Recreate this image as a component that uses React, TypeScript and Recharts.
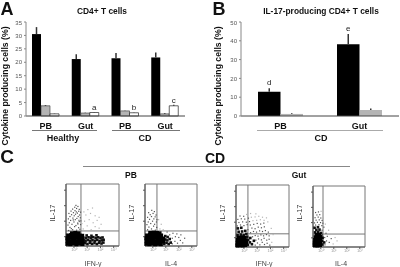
import React from 'react'
import { BarChart, Bar, XAxis, YAxis, ErrorBar, LabelList, ScatterChart, Scatter, ReferenceLine, ReferenceArea } from 'recharts'

const FONT = '"Liberation Sans", Arial, sans-serif'

// Panel A
const groupsA = ['PB', 'Gut', 'PB ', 'Gut ']
const blackA = [30.5, 21.2, 21.5, 21.8]
const blackErrA = [2.6, 1.8, 2, 1.8]
const grayA = [3.8, 1.1, 1.9, 0.8]
const grayErrA = [0.3, 0.1, 0.1, 0.3]
const whiteA = [0.8, 1.3, 1.2, 3.8]
const whiteErrA = [0.1, 0.1, 0.1, 0.4]
const lettersA = ['', 'a', 'b', 'c']
const ticksA = [0, 5, 10, 15, 20, 25, 30, 35]

// Panel B
const groupsB = ['PB', 'Gut']
const blackB = [12.9, 38.2]
const blackErrB = [1.8, 5.4]
const grayB = [1.1, 3.2]
const grayErrB = [0.3, 0.8]
const lettersB = ['d', 'e']
const ticksB = [0, 10, 20, 30, 40, 50]

const dataA = groupsA.map((name, i) => ({
  name,
  black: blackA[i],
  blackErr: [0, blackErrA[i]],
  gray: grayA[i],
  grayErr: [0, grayErrA[i]],
  white: whiteA[i],
  whiteErr: [0, whiteErrA[i]],
  letter: lettersA[i],
}))

const dataB = groupsB.map((name, i) => ({
  name,
  black: blackB[i],
  blackErr: [0, blackErrB[i]],
  gray: grayB[i],
  grayErr: [0, grayErrB[i]],
  letter: lettersB[i],
}))

type Pair = [number, number]

const p1Core: Pair[] = [[.12,.14],[.33,.12],[.55,.16],[.78,.11],[1.0,.15],[1.24,.13],[.13,.33],[.36,.3],[.58,.34],[.8,.3],[1.03,.33],[1.27,.31],[.11,.5],[.34,.52],[.57,.49],[.79,.52],[1.02,.5],[1.25,.49],[.16,.68],[.38,.7],[.6,.66],[.82,.72],[1.04,.67],[1.22,.66],[.45,.82],[.7,.84],[.95,.82]]
const p1Mid: Pair[] = [[1.46,.18],[1.62,.13],[1.8,.2],[1.97,.14],[2.15,.19],[2.33,.13],[2.5,.2],[2.68,.16],[2.82,.22],[1.48,.34],[1.66,.38],[1.83,.31],[2.0,.37],[2.18,.33],[2.36,.39],[2.53,.32],[2.7,.36],[2.84,.4],[1.5,.52],[1.7,.56],[1.88,.5],[2.06,.57],[2.24,.51],[2.42,.56],[2.6,.52],[2.76,.55],[1.56,.68],[1.92,.66],[2.3,.69]]
const p1Sparse: Pair[] = [[.2,1.0],[.5,1.05],[.8,1.02],[1.05,1.08],[.3,1.2],[.65,1.25],[.95,1.18],[.15,1.35],[.45,1.4],[.75,1.32],[1.1,1.38],[.25,1.5],[.6,1.55],[.88,1.48],[1.0,1.58],[.35,1.65],[.7,1.7],[.98,1.66],[.18,1.75],[.52,1.8],[.82,1.78],[1.08,1.82],[.3,1.9],[.62,1.95],[.92,1.9],[.42,2.02],[.72,2.05],[1.02,2.0],[.22,2.1],[.56,2.15],[.86,2.12],[1.1,2.18],[.38,2.25],[.68,2.28],[.96,2.24],[.5,2.38],[.8,2.42],[1.0,2.36],[.66,2.5],[.9,2.55],[.75,2.62],[.4,1.12],[.9,1.42],[.55,1.68],[.78,2.2],[1.12,1.62]]
const p1Faint: Pair[] = [[1.3,1.1],[1.6,1.3],[1.9,1.05],[2.2,1.25],[2.5,1.15],[1.4,1.6],[1.75,1.7],[2.05,1.5],[2.35,1.65],[2.65,1.4],[1.5,2.0],[1.85,2.1],[2.2,1.95],[2.5,1.85],[1.65,2.35],[2.0,2.45],[1.35,2.2],[1.2,1.45]]

const p2Core: Pair[] = [[.12,.14],[.34,.12],[.56,.15],[.78,.11],[1.0,.14],[1.22,.12],[.13,.33],[.36,.31],[.58,.33],[.8,.3],[1.02,.33],[1.25,.31],[1.42,.3],[.11,.5],[.34,.52],[.57,.49],[.79,.52],[1.02,.5],[1.24,.52],[1.4,.48],[.16,.68],[.38,.7],[.6,.66],[.82,.72],[1.04,.68],[1.24,.68],[.4,.84],[.66,.86],[.92,.84],[1.12,.82]]
const p2Mid: Pair[] = [[1.48,.14],[1.66,.2],[1.82,.13],[1.98,.22],[1.56,.42],[1.72,.36],[1.9,.45],[1.56,.64],[1.74,.58]]
const p2Sparse: Pair[] = [[2.1,.14],[2.3,.3],[2.5,.18],[2.72,.36],[2.1,.5],[2.34,.6],[2.6,.55],[1.9,.72],[2.15,.82],[2.45,.78],[2.9,.2],[3.05,.5],[2.76,.72],[1.7,.9],[.2,1.05],[.5,1.1],[.8,1.02],[.3,1.22],[.66,1.28],[.9,1.2],[.15,1.38],[.44,1.45],[.74,1.4],[.25,1.55],[.58,1.6],[.88,1.55],[.35,1.72],[.68,1.75],[.92,1.7],[.2,1.85],[.5,1.9],[.78,1.88],[.4,2.02],[.62,2.1],[.85,2.0],[.28,2.15],[.72,2.22],[.52,2.3]]
const p2Faint: Pair[] = [[1.15,1.1],[1.4,1.05],[1.25,1.4],[1.05,1.7]]

const p3Core: Pair[] = [[.1,.1],[.3,.12],[.5,.1],[.7,.13],[.12,.28],[.33,.3],[.54,.27],[.76,.3],[.13,.46],[.35,.44],[.56,.48],[.72,.44],[.2,.6],[.42,.62],[.62,.6]]
const p3Mid: Pair[] = [[.9,.14],[1.05,.3],[.92,.46],[.85,.66],[1.08,.58],[.12,.76],[.36,.8],[.58,.76],[.78,.84],[.2,.98],[.46,1.0],[.7,1.04],[.14,1.2],[.4,1.24],[1.2,.18],[1.35,.4]]
const p3Sparse: Pair[] = [[1.45,.12],[1.62,.26],[1.8,.14],[1.98,.3],[2.15,.16],[2.35,.24],[2.55,.12],[1.5,.44],[1.7,.52],[1.92,.46],[2.12,.56],[2.32,.44],[2.5,.5],[1.25,.66],[1.45,.74],[1.66,.7],[1.88,.78],[2.08,.72],[2.3,.8],[2.5,.72],[1.1,.92],[1.32,1.0],[1.55,.96],[1.78,1.04],[2.0,1.0],[2.22,1.06],[2.44,.96],[.9,1.12],[1.2,1.22],[1.44,1.18],[1.68,1.28],[1.92,1.24],[2.14,1.3],[.1,1.36],[.34,1.42],[.6,1.38],[.84,1.44],[1.08,1.42],[1.34,1.46],[1.6,1.52],[1.86,1.48],[2.1,1.54],[.22,1.58],[.5,1.62],[.78,1.6],[1.02,1.64],[.14,1.78],[.4,1.82],[.66,1.8],[.94,1.86],[.3,2.0],[.58,1.98]]
const p3Faint: Pair[] = [[1.28,1.7],[1.56,1.72],[1.84,1.76],[2.12,1.72],[2.4,1.62],[1.16,1.92],[1.44,1.94],[1.72,1.98],[2.0,1.92],[2.3,1.88],[.8,2.1],[1.1,2.16],[1.5,2.14],[2.7,.3],[2.8,.8],[2.66,1.2]]

const p4Core: Pair[] = [[.14,.12],[.34,.1],[.54,.13],[.14,.28],[.34,.3],[.56,.27],[.16,.46],[.36,.44],[.56,.47],[.2,.64],[.42,.62],[.58,.66],[.28,.8],[.48,.8]]
const p4Mid: Pair[] = [[.72,.16],[.7,.4],[.74,.6],[.16,.96],[.4,.98],[.62,.92],[.26,1.12],[.5,1.14],[.12,1.26],[.38,1.3],[.86,.3]]
const p4Sparse: Pair[] = [[.92,.14],[1.04,.4],[.9,.62],[1.1,.7],[1.25,.3],[1.4,.55],[.72,.82],[1.0,.9],[.7,1.1],[.2,1.44],[.46,1.46],[.68,1.4],[.84,1.3],[.12,1.58],[.34,1.62],[.58,1.6],[.76,1.56],[.24,1.76],[.48,1.78],[.7,1.74],[.16,1.92],[.4,1.96],[.6,1.9],[.3,2.1],[.52,2.12],[.2,2.26],[.42,2.3]]
const p4Faint: Pair[] = [[1.55,.2],[1.7,.62],[1.3,.82],[1.2,1.1],[.95,1.5],[.8,1.9],[.62,2.34],[1.85,.4]]

const dotTicksX = [0.6, 1.6, 2.6, 3.6]
const dotTicksY = [0.6, 1.6, 2.6, 3.6]
const decadeLabels = ['10⁰', '10¹', '10²', '10³']

const toPoints = (pairs: Pair[]) => pairs.map(([x, y]) => ({ x, y }))

const dot = (size: number, fill: string) => (props: any) => (
  <rect x={props.cx - size / 2} y={props.cy - size / 2} width={size} height={size} fill={fill} />
)

function DotPlot({ left, top, width, height, gateX, gateY, core, mid, sparse, faint }: any) {
  return (
    <div style={{ position: 'absolute', left: left - 10, top: top - 2 }}>
      <ScatterChart width={width + 12} height={height + 12} margin={{ top: 2, right: 2, bottom: 0, left: 0 }}>
        <XAxis
          type="number"
          dataKey="x"
          domain={[0, 4]}
          ticks={dotTicksX}
          height={10}
          axisLine={{ stroke: '#555' }}
          tickLine={{ stroke: '#555' }}
          tickSize={2}
          tickMargin={0}
          tickFormatter={(v: number) => decadeLabels[dotTicksX.indexOf(v)]}
          tick={{ fontSize: 4, fill: '#999', fontFamily: FONT }}
        />
        <YAxis
          type="number"
          dataKey="y"
          domain={[0, 4]}
          ticks={dotTicksY}
          width={10}
          axisLine={{ stroke: '#555' }}
          tickLine={{ stroke: '#555' }}
          tickSize={2}
          tickMargin={0}
          tickFormatter={() => ''}
        />
        <ReferenceArea x1={0} x2={4} y1={0} y2={4} fill="none" stroke="#777" strokeWidth={1} />
        <Scatter data={toPoints(faint)} shape={dot(1.2, '#b5b5b5')} isAnimationActive={false} />
        <Scatter data={toPoints(sparse)} shape={dot(1.2, '#555')} isAnimationActive={false} />
        <Scatter data={toPoints(mid)} shape={dot(2.6, '#111')} isAnimationActive={false} />
        <Scatter data={toPoints(core)} shape={dot(4, '#000')} isAnimationActive={false} />
        <ReferenceLine x={gateX} stroke="#777" />
        <ReferenceLine y={gateY} stroke="#777" />
      </ScatterChart>
    </div>
  )
}

function Label({ x, y, size, bold, rotate, color, children }: any) {
  return (
    <div
      style={{
        position: 'absolute',
        left: x,
        top: y,
        transform: `translate(-50%, -50%)${rotate ? ' rotate(-90deg)' : ''}`,
        fontFamily: FONT,
        fontSize: size,
        fontWeight: bold ? 700 : 400,
        color: color || '#111',
        whiteSpace: 'nowrap',
        lineHeight: 1,
      }}
    >
      {children}
    </div>
  )
}

function Rule({ x1, x2, y, color }: any) {
  return <div style={{ position: 'absolute', left: x1, top: y, width: x2 - x1, height: 1, background: color || '#777' }} />
}

const axisTick = { fontSize: 6, fill: '#555', fontFamily: FONT }
const nameTick = { fontSize: 9, fill: '#111', fontWeight: 700, fontFamily: FONT }
const letterStyle = { fontSize: 8, fill: '#222', fontFamily: FONT }

// letter sits just above the error bar, so the gap follows the error value
const letterB = (props: any) => {
  const i = lettersB.indexOf(props.value)
  return (
    <text x={props.x + props.width / 2} y={props.y - blackErrB[i] * 1.88 - 3} textAnchor="middle" style={letterStyle}>
      {props.value}
    </text>
  )
}

export default function App() {
  return (
    <div style={{ position: 'absolute', left: 0, top: 0, width: 400, height: 267, background: '#fff', overflow: 'hidden', filter: 'blur(0.3px)' }}>
      <div style={{ position: 'absolute', left: 0, top: 20 }}>
        <BarChart width={186} height={116} data={dataA} margin={{ top: 2, right: 1, bottom: 0, left: 0 }} barSize={9} barGap={0}>
          <XAxis dataKey="name" height={20} tickLine={false} axisLine={{ stroke: '#444' }} tick={nameTick} tickMargin={1} interval={0} />
          <YAxis width={26} domain={[0, 35]} ticks={ticksA} axisLine={{ stroke: '#888' }} tickLine={{ stroke: '#888' }} tickSize={2} tickMargin={2} tick={axisTick} />
          <Bar dataKey="black" fill="#000" isAnimationActive={false}>
            <ErrorBar dataKey="blackErr" direction="y" width={0} stroke="#333" isAnimationActive={false} />
          </Bar>
          <Bar dataKey="gray" fill="#b4b4b4" stroke="#333" strokeWidth={0.6} isAnimationActive={false}>
            <ErrorBar dataKey="grayErr" direction="y" width={0} stroke="#333" isAnimationActive={false} />
          </Bar>
          <Bar dataKey="white" fill="#fff" stroke="#222" strokeWidth={0.7} isAnimationActive={false}>
            <ErrorBar dataKey="whiteErr" direction="y" width={0} stroke="#333" isAnimationActive={false} />
            <LabelList dataKey="letter" position="top" offset={3} style={letterStyle} />
          </Bar>
        </BarChart>
      </div>

      <div style={{ position: 'absolute', left: 215, top: 20 }}>
        <BarChart width={185} height={116} data={dataB} margin={{ top: 2, right: 1, bottom: 0, left: 0 }} barSize={22.5} barGap={0}>
          <XAxis dataKey="name" height={20} tickLine={false} axisLine={{ stroke: '#444' }} tick={nameTick} tickMargin={1} interval={0} />
          <YAxis width={26} domain={[0, 50]} ticks={ticksB} axisLine={{ stroke: '#888' }} tickLine={{ stroke: '#888' }} tickSize={2} tickMargin={2} tick={axisTick} />
          <Bar dataKey="black" fill="#000" isAnimationActive={false}>
            <ErrorBar dataKey="blackErr" direction="y" width={0} stroke="#333" isAnimationActive={false} />
            <LabelList dataKey="letter" content={letterB} />
          </Bar>
          <Bar dataKey="gray" fill="#b4b4b4" isAnimationActive={false}>
            <ErrorBar dataKey="grayErr" direction="y" width={0} stroke="#333" isAnimationActive={false} />
          </Bar>
        </BarChart>
      </div>

      <Label x={7} y={9} size={18} bold>A</Label>
      <Label x={219} y={9} size={18} bold>B</Label>
      <Label x={7} y={156} size={19} bold>C</Label>
      <Label x={215} y={158} size={14} bold>CD</Label>

      <Label x={102} y={11} size={8.4} bold>CD4+ T cells</Label>
      <Label x={321} y={11} size={8.4} bold>IL-17-producing CD4+ T cells</Label>

      <Label x={5} y={86} size={8.7} bold rotate>Cytokine producing cells (%)</Label>
      <Label x={218} y={86} size={8.7} bold rotate>Cytokine producing cells (%)</Label>

      <Rule x1={32} x2={97} y={130} />
      <Rule x1={112} x2={180} y={130} />
      <Rule x1={257} x2={383} y={130} color="#aaa" />
      <Label x={63} y={138} size={9} bold>Healthy</Label>
      <Label x={145} y={138} size={9} bold>CD</Label>
      <Label x={321} y={138} size={9} bold>CD</Label>

      <Rule x1={83} x2={350} y={166} color="#888" />
      <Label x={131} y={175} size={8.5} bold>PB</Label>
      <Label x={299} y={175} size={8.5} bold>Gut</Label>

      <DotPlot left={66} top={184} width={53} height={62} gateX={1.13} gateY={0.97} core={p1Core} mid={p1Mid} sparse={p1Sparse} faint={p1Faint} />
      <DotPlot left={145} top={184} width={52} height={62} gateX={0.92} gateY={0.97} core={p2Core} mid={p2Mid} sparse={p2Sparse} faint={p2Faint} />
      <DotPlot left={236} top={185} width={53} height={62} gateX={0.9} gateY={0.85} core={p3Core} mid={p3Mid} sparse={p3Sparse} faint={p3Faint} />
      <DotPlot left={313} top={186} width={52} height={61} gateX={0.77} gateY={0.85} core={p4Core} mid={p4Mid} sparse={p4Sparse} faint={p4Faint} />

      <Label x={53} y={213} size={7.5} color="#333" rotate>IL-17</Label>
      <Label x={132} y={213} size={7.5} color="#333" rotate>IL-17</Label>
      <Label x={223} y={213} size={7.5} color="#333" rotate>IL-17</Label>
      <Label x={300} y={213} size={7.5} color="#333" rotate>IL-17</Label>
      <Label x={93} y={263} size={7} color="#444">IFN-γ</Label>
      <Label x={171} y={263} size={7} color="#444">IL-4</Label>
      <Label x={264} y={263} size={7} color="#444">IFN-γ</Label>
      <Label x={341} y={263} size={7} color="#444">IL-4</Label>
    </div>
  )
}
